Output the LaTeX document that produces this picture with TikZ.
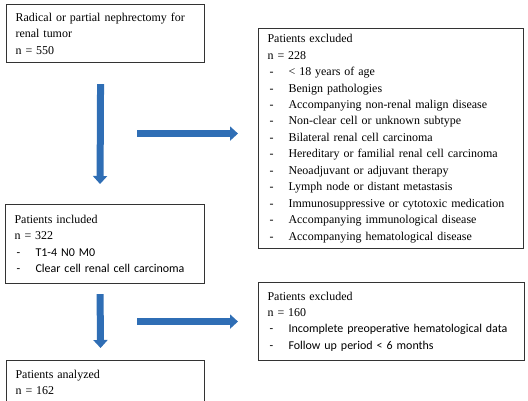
\documentclass[tikz,border=0pt]{standalone}
\usepackage{fontspec}
\setmainfont{Liberation Serif}
\newfontfamily\calibri{Carlito}
\usetikzlibrary{positioning, arrows.meta}
\definecolor{arrowblue}{HTML}{2F6EB5}
\newcommand{\dashitem}[1]{\makebox[21bp][l]{\hspace{2bp}-}#1}
\tikzset{
  flowbox/.style={draw=black!80, line width=1.1bp, anchor=north west, align=left,
    inner xsep=9bp, inner ysep=5bp, text=black, font=\fontsize{12}{16.5}\selectfont},
  bigarrow/.style={draw=arrowblue, line width=7bp, -{Triangle[width=14bp,length=8bp]}}
}

\begin{document}
\begin{tikzpicture}[x=1bp, y=-1bp]
  \useasboundingbox (0,0) rectangle (528,400);

  % boxes
  \node[flowbox, text width=180bp, minimum width=198bp, minimum height=58bp] (nephr) at (6,4)
    {Radical or partial nephrectomy for\\ renal tumor\\ n = 550};
  \node[flowbox, text width=247bp, minimum width=265bp, minimum height=220bp] (excl) at (258,28)
    {Patients excluded\\ n = 228\\
     \dashitem{< 18 years of age}\\
     \dashitem{Benign pathologies}\\
     \dashitem{Accompanying non-renal malign disease}\\
     \dashitem{Non-clear cell or unknown subtype}\\
     \dashitem{Bilateral renal cell carcinoma}\\
     \dashitem{Hereditary or familial renal cell carcinoma}\\
     \dashitem{Neoadjuvant or adjuvant therapy}\\
     \dashitem{Lymph node or distant metastasis}\\
     \dashitem{Immunosuppressive or cytotoxic medication}\\
     \dashitem{Accompanying immunological disease}\\
     \dashitem{Accompanying hematological disease}};
  \node[flowbox, text width=181bp, minimum width=199bp, minimum height=79bp] (incl) at (5,204)
    {Patients included\\ n = 322\\
     {\calibri\dashitem{T1-4 N0 M0}}\\
     {\calibri\dashitem{Clear cell renal cell carcinoma}}};
  \node[flowbox, text width=248bp, minimum width=266bp, minimum height=78bp] (excltwo) at (258,282)
    {Patients excluded\\ n = 160\\
     {\calibri\dashitem{Incomplete preoperative hematological data}}\\
     {\calibri\dashitem{Follow up period < 6 months}}};
  \node[flowbox, text width=180bp, minimum width=198bp, minimum height=60bp] (anal) at (6,360)
    {Patients analyzed\\ n = 162\\ \mbox{}};

  % arrows
  \draw[bigarrow] ([xshift=-5bp,yshift=-21bp]nephr.south) -- ([xshift=-5bp,yshift=20bp]incl.north);
  \draw[bigarrow] ([xshift=-121bp,yshift=5bp]excl.west) -- ([xshift=-20bp,yshift=5bp]excl.west);
  \draw[bigarrow] ([xshift=-5bp,yshift=-10bp]incl.south) -- ([xshift=-5bp,yshift=12bp]anal.north);
  \draw[bigarrow] ([xshift=-121bp]excltwo.west) -- ([xshift=-20bp]excltwo.west);
\end{tikzpicture}
\end{document}
